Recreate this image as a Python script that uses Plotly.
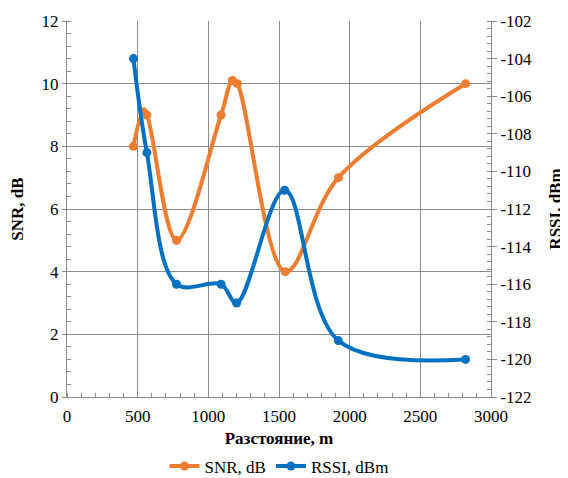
import plotly.graph_objects as go

# Data
snr_dist = [470, 540, 565, 775, 1090, 1170, 1205, 1545, 1920, 2820]
snr_vals = [8, 9.1, 9, 5, 9, 10.1, 10, 4, 7, 10]
rssi_dist = [470, 565, 775, 1090, 1200, 1540, 1920, 2820]
rssi_vals = [-104, -109, -116, -116, -117, -111, -119, -120]
left_ticks = [0, 2, 4, 6, 8, 10, 12]
right_ticks = [-122, -120, -118, -116, -114, -112, -110, -108, -106, -104, -102]
x_ticks = [0, 500, 1000, 1500, 2000, 2500, 3000]

ORANGE = "#ED7D31"
BLUE = "#0070C0"
GRID = "#8C8C8C"
FONT = "Liberation Serif, Times New Roman, serif"

fig = go.Figure()
fig.add_trace(go.Scatter(
    x=snr_dist, y=snr_vals, name="SNR, dB", mode="lines+markers",
    line=dict(color=ORANGE, width=4, shape="spline", smoothing=1),
    marker=dict(color=ORANGE, size=9), yaxis="y"))
fig.add_trace(go.Scatter(
    x=rssi_dist, y=rssi_vals, name="RSSI, dBm", mode="lines+markers",
    line=dict(color=BLUE, width=4, shape="spline", smoothing=1),
    marker=dict(color=BLUE, size=9), yaxis="y2"))

tickf = dict(family=FONT, size=17, color="black")
titlef = dict(family=FONT, size=17, color="black")

fig.update_layout(
    width=560, height=470,
    margin=dict(l=59, r=77, t=13, b=81, autoexpand=False),
    paper_bgcolor="white", plot_bgcolor="white",
    font=dict(family=FONT, size=17, color="black"),
    showlegend=True,
    legend=dict(orientation="h", x=0.5, xanchor="center", xref="paper",
                y=-0.185, yanchor="middle", font=dict(family=FONT, size=17, color="black"),
                itemwidth=30, tracegroupgap=0),
    xaxis=dict(
        range=[0, 3000], tickvals=x_ticks, ticktext=[str(v) for v in x_ticks],
        showgrid=True, gridcolor=GRID, gridwidth=1,
        showline=True, linecolor=GRID, linewidth=1, mirror=False,
        ticks="outside", ticklen=4, tickcolor="rgba(0,0,0,0)", zeroline=False,
        minor=dict(dtick=100, tick0=0, ticks="inside", ticklen=4, tickcolor=GRID, showgrid=False),
        title=dict(text="<b>Разстояние, m</b>", font=titlef, standoff=6),
        tickfont=tickf,
    ),
    yaxis=dict(
        range=[0, 12], tickvals=left_ticks, ticktext=[str(v) for v in left_ticks],
        showgrid=True, gridcolor=GRID, gridwidth=1,
        showline=True, linecolor=GRID, linewidth=1,
        ticks="outside", ticklen=4, tickcolor=GRID, zeroline=False,
        minor=dict(dtick=0.4, tick0=0, ticks="inside", ticklen=4, tickcolor=GRID, showgrid=False),
        title=dict(text="<b>SNR, dB</b>", font=titlef, standoff=14),
        tickfont=tickf,
    ),
    yaxis2=dict(
        range=[-122, -102], tickvals=right_ticks, ticktext=[str(v) for v in right_ticks],
        overlaying="y", side="right",
        showgrid=False, zeroline=False,
        showline=True, linecolor=GRID, linewidth=1,
        ticks="outside", ticklen=5, tickcolor=GRID,
        minor=dict(dtick=0.4, tick0=-122, ticks="inside", ticklen=4, tickcolor=GRID),
        title=dict(text="<b>RSSI, dBm</b>", font=titlef, standoff=18),
        tickfont=tickf,
    ),
)

fig.write_html("out.html")
